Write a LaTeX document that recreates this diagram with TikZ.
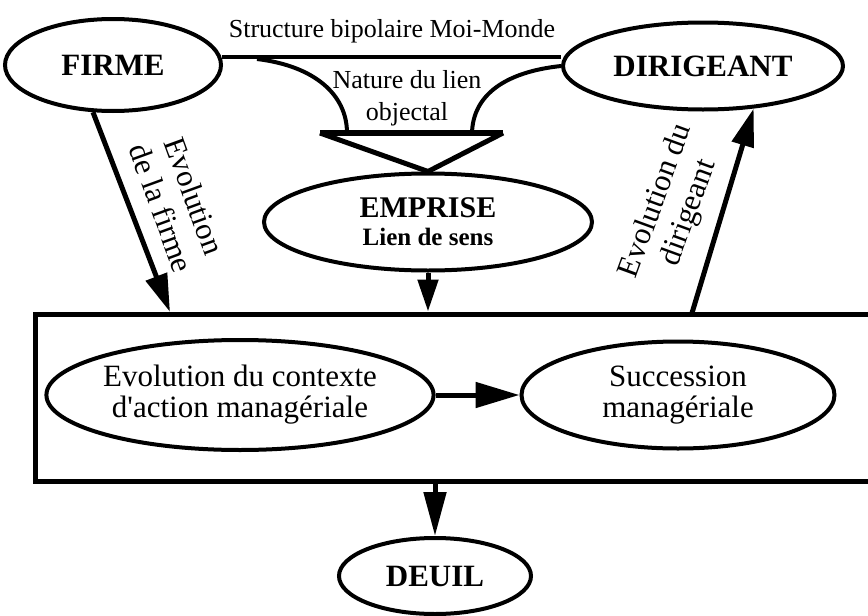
\documentclass[tikz,border=0pt]{standalone}
\usepackage{fontspec}
\setmainfont{Liberation Serif}
\usetikzlibrary{shapes.geometric,arrows.meta}
\begin{document}
\begin{tikzpicture}[x=1pt,y=-1pt,
  oval/.style={ellipse,draw,line width=4pt,inner sep=0pt,align=center},
  big/.style={font=\fontsize{31}{31}\selectfont},
  bigbf/.style={font=\fontsize{31}{31}\selectfont\bfseries},
  tilted/.style={font=\fontsize{31}{35}\selectfont,align=center,inner sep=1pt},
  lab/.style={font=\fontsize{26}{32}\selectfont},
  flow/.style={line width=5pt,-{Triangle[length=38pt,width=22pt]}},
  link/.style={line width=4pt}]
\useasboundingbox (0,0) rectangle (868,616);
\clip (0,0) rectangle (868,616);

% outer frame (runs past the right edge)
\node[draw,line width=5pt,minimum width=850pt,minimum height=167pt,inner sep=0pt] (cadre) at (460,397.5) {};

% main ellipses
\node[oval,bigbf,minimum width=216pt,minimum height=92pt] (firme) at (113,65) {FIRME};
\node[oval,bigbf,minimum width=280pt,minimum height=87pt] (dirigeant) at (703,66) {DIRIGEANT};
\node[oval,font=\fontsize{25}{28}\selectfont\bfseries,minimum width=328pt,minimum height=97pt] (emprise) at (428,222)
  {{\fontsize{30}{28}\selectfont EMPRISE}\\Lien de sens};
\node[oval,big,minimum width=356pt,minimum height=110pt] (ctx) at (240,395)
  {Evolution du contexte\\d\textquotesingle action managériale};
\node[oval,big,minimum width=313pt,minimum height=107pt] (succ) at (678,395)
  {Succession\\managériale};
\node[oval,bigbf,minimum width=192pt,minimum height=76pt] (deuil) at (435,576) {DEUIL};

% bipolar structure line and its labels
\draw[link] (firme.4) -- (firme.4 -| dirigeant.west);
\node[lab,anchor=base] (structure) at (392,37) {Structure bipolaire Moi-Monde};
\node[lab,anchor=base] (nature1) at (407,88) {Nature du lien};
\node[lab,anchor=base] (nature2) at (407,120) {objectal};

% funnel into EMPRISE
\coordinate (cl) at (257,59);
\coordinate (nl) at (347,133);
\coordinate (nr) at (472,133);
\coordinate (tl) at (320,133);
\coordinate (tr) at (503,133);
\draw[link] (cl) .. controls (315,66) and (347,95) .. (nl);
\draw[link] (dirigeant.west) .. controls (505,72) and (473,95) .. (nr);
\draw[line width=6pt] (tl) -- (tr);
\draw[line width=5pt] (tl) -- (emprise.north);
\draw[line width=5pt] (tr) -- (emprise.north);

% evolution arrows
\coordinate (pL) at (170,312);
\coordinate (pR) at (692,313);
\draw[flow] (firme.247) -- (pL);
\draw[flow] (pR) -- (dirigeant.-40);
\node[tilted,rotate=-70] (evf) at (178,202) {Evolution\\de la firme};
\node[tilted,rotate=70] (evd) at (673,207) {Evolution du\\dirigeant};

% vertical flow
\draw[flow,-{Triangle[length=32pt,width=20pt]}] (emprise.south) -- (emprise.south |- cadre.north);
\draw[flow,-{Triangle[length=44pt,width=25pt]}] (ctx.east) -- (succ.west);
\draw[flow,-{Triangle[length=44pt,width=22pt]}] (deuil.north |- cadre.south) -- (deuil.north);
\end{tikzpicture}
\end{document}
